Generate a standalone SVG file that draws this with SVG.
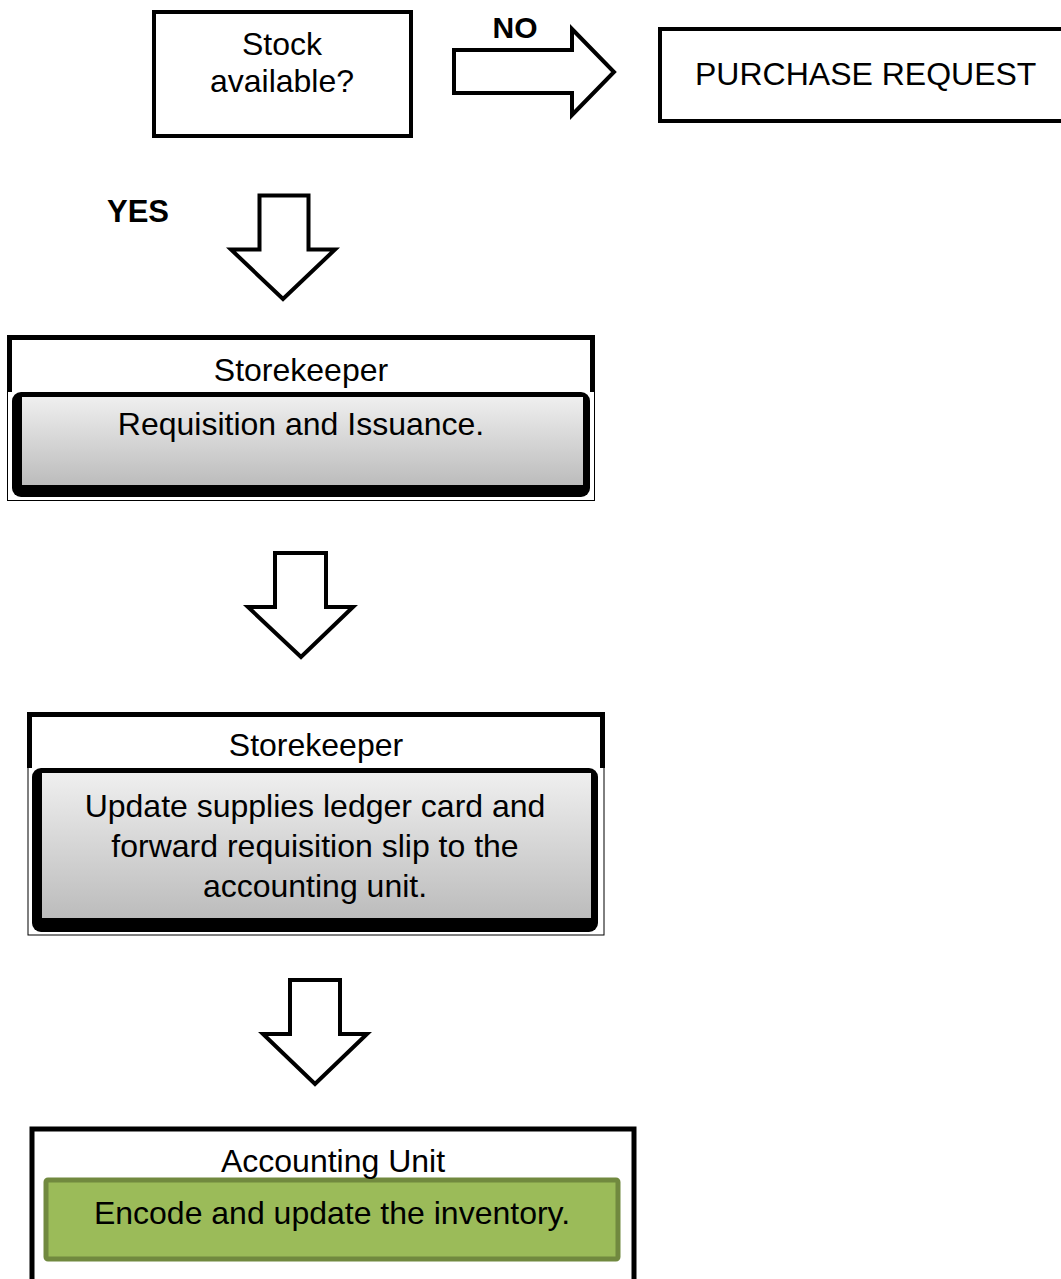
<svg xmlns="http://www.w3.org/2000/svg" width="1061" height="1279" viewBox="0 0 1061 1279">
<style>
.t{font-family:"Liberation Sans",Arial,sans-serif;font-size:32px;fill:#000}
.b{font-family:"Liberation Sans",Arial,sans-serif;font-weight:bold;fill:#000}
.box{fill:#fff;stroke:#000;stroke-width:4}
.arrow{fill:#fff;stroke:#000;stroke-width:4;stroke-linejoin:miter}
.thin{fill:none;stroke:#000;stroke-width:1}
.thick{fill:none;stroke:#000;stroke-width:5}
</style>
<defs>
<linearGradient id="gray" x1="0" y1="0" x2="0" y2="1">
<stop offset="0" stop-color="#efefef"/>
<stop offset="1" stop-color="#bcbcbc"/>
</linearGradient>
</defs>
<rect width="1061" height="1279" fill="#fff"/>
<g id="connectors">
<polygon class="arrow" points="454,50 572,50 572,29 614,72 572,115 572,93 454,93"/>
<text class="b" x="515" y="38" font-size="30" text-anchor="middle">NO</text>
<text class="b" x="107" y="222" font-size="31">YES</text>
<polygon class="arrow" points="259.5,195.5 308.5,195.5 308.5,249.5 335,249.5 283,299 231,249.5 259.5,249.5"/>
<polygon class="arrow" points="275,553 326,553 326,607 353,607 301,657 248,607 275,607"/>
<polygon class="arrow" points="290,980 340,980 340,1034 367,1034 315,1084 263,1034 290,1034"/>
</g>
<g id="stock">
<rect class="box" x="154" y="12" width="257" height="124"/>
<text class="t" x="282" y="55" text-anchor="middle">Stock</text>
<text class="t" x="282" y="92" text-anchor="middle">available?</text>
</g>
<g id="purchase">
<rect class="box" x="660" y="29" width="420" height="92"/>
<text class="t" x="695" y="85">PURCHASE REQUEST</text>
</g>
<g id="storekeeper1">
<rect class="thin" x="7.5" y="337" width="587" height="163.5"/>
<path class="thick" d="M9.5,392 V337.5 H592.5 V392"/>
<rect x="12" y="392" width="578" height="105" rx="9" fill="#000"/>
<rect x="22" y="397" width="561" height="88" fill="url(#gray)"/>
<text class="t" x="301" y="381" text-anchor="middle">Storekeeper</text>
<text class="t" x="301" y="435" text-anchor="middle">Requisition and Issuance.</text>
</g>
<g id="storekeeper2">
<rect class="thin" x="28" y="713" width="576" height="222"/>
<path class="thick" d="M29.5,768 V714.5 H602.5 V768"/>
<rect x="32" y="768" width="566" height="164" rx="9" fill="#000"/>
<rect x="42" y="773" width="549" height="145" fill="url(#gray)"/>
<text class="t" x="316" y="756" text-anchor="middle">Storekeeper</text>
<text class="t" x="315" y="817" text-anchor="middle">Update supplies ledger card and</text>
<text class="t" x="315" y="857" text-anchor="middle">forward requisition slip to the</text>
<text class="t" x="315" y="897" text-anchor="middle">accounting unit.</text>
</g>
<g id="accounting">
<path class="thick" d="M32,1290 V1129 H634 V1290"/>
<rect x="46" y="1180" width="572" height="79" rx="2" fill="#9bbb59" stroke="#71893f" stroke-width="5"/>
<text class="t" x="333" y="1172" text-anchor="middle">Accounting Unit</text>
<text class="t" x="332" y="1224" text-anchor="middle">Encode and update the inventory.</text>
</g>
</svg>
